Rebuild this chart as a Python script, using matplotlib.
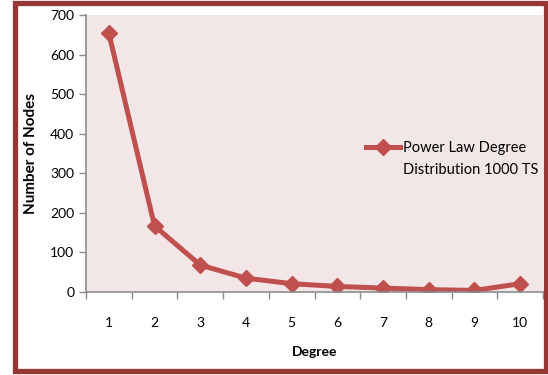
import matplotlib.pyplot as plt
from matplotlib.patches import Rectangle

# Degree distribution values
degrees = [1, 2, 3, 4, 5, 6, 7, 8, 9, 10]
node_counts = [654, 167, 68, 35, 21, 14, 10, 6, 4, 21]
series_label = ['Power Law Degree', 'Distribution 1000 TS']

plt.rcParams['font.family'] = ['Lato', 'DejaVu Sans']

fig = plt.figure(figsize=(5.48, 3.75), dpi=100)
ax = fig.add_axes([86 / 548, 1 - 292 / 375, (543 - 86) / 548, (292 - 15) / 375])

ax.set_facecolor('#f2e6e6')
ax.plot(degrees, node_counts, color='#c0504d', linewidth=3.6, marker='D',
        markersize=8.5, label=series_label[0])

ax.set_xlim(0.5, 10.5)
ax.set_ylim(0, 700)
ax.set_yticks(range(0, 701, 100))
ax.set_xticks(degrees)
ax.set_xticks([d + 0.5 for d in [0] + degrees], minor=True)
ax.tick_params(axis='x', which='major', length=0, pad=18, labelsize=10)
ax.tick_params(axis='x', which='minor', length=5, color='#8c8c8c', width=1)
ax.tick_params(axis='y', length=5, color='#8c8c8c', width=1, labelsize=10)

for side in ('top', 'right'):
    ax.spines[side].set_visible(False)
for side in ('left', 'bottom'):
    ax.spines[side].set_color('#8c8c8c')
    ax.spines[side].set_linewidth(1.2)

ax.set_xlabel('Degree', fontsize=10, fontweight='bold', labelpad=12)
ax.set_ylabel('Number of Nodes', fontsize=11, fontweight='bold', labelpad=9)

# legend handle sits beside the first line; second line hangs underneath
leg = ax.legend(loc='center left', bbox_to_anchor=(0.585, 0.52), frameon=False,
                fontsize=10.5, handlelength=2.3, handletextpad=0.2, markerscale=0.9)
ax.annotate(series_label[1], xy=(0, 0.5), xycoords=leg.get_texts()[0],
            xytext=(0, -16), textcoords='offset points',
            ha='left', va='center', fontsize=10.5, zorder=6)

# Maroon frame around the whole chart
fig.patches.append(Rectangle((14.5 / 548, 4.5 / 375), (545.5 - 14.5) / 548, (372.5 - 4.5) / 375,
                             transform=fig.transFigure, fill=False,
                             edgecolor='#953735', linewidth=3.8))

fig.savefig('out.png', dpi=100)
